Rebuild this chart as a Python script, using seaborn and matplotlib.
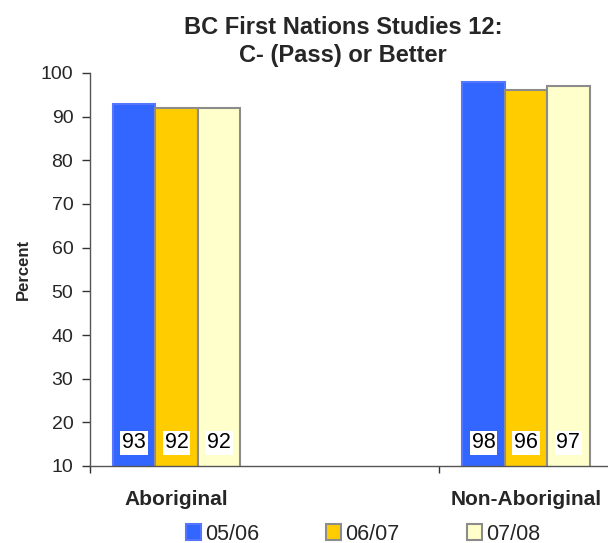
import matplotlib
matplotlib.use("Agg")
import matplotlib.pyplot as plt
from matplotlib.patches import Patch
import seaborn as sns
import pandas as pd

categories = ["Aboriginal", "Non-Aboriginal"]
years = ["05/06", "06/07", "07/08"]
values_0506 = [93, 98]
values_0607 = [92, 96]
values_0708 = [92, 97]
yticks = [10, 20, 30, 40, 50, 60, 70, 80, 90, 100]

rows = []
for yr, vals in zip(years, [values_0506, values_0607, values_0708]):
    for c, v in zip(categories, vals):
        rows.append({"Group": c, "Year": yr, "Percent": v})
df = pd.DataFrame(rows)

sns.set_style("white")
plt.rcParams["font.family"] = ["Liberation Sans", "DejaVu Sans"]

fills = ["#3366FF", "#FFCC00", "#FFFFCC"]
edges = ["#5577FF", "#8C8C8C", "#8C8C8C"]

fig = plt.figure(figsize=(6.08, 5.43), dpi=100)
ax = fig.add_axes([90/608, 1-466/543, 1-90/608, (466-73)/543])

sns.barplot(data=df, x="Group", y="Percent", hue="Year", order=categories,
            hue_order=years, palette=fills, width=0.364, ax=ax, legend=False,
            saturation=1)

for cont, ec in zip(ax.containers, edges):
    for bar in cont:
        bar.set_edgecolor(ec)
        bar.set_linewidth(1.5)
    for bar, v in zip(cont, cont.datavalues):
        ax.text(bar.get_x() + bar.get_width()/2, 15.3, f"{v:.0f}",
                ha="center", va="center", fontsize=15.5, color="black",
                bbox=dict(boxstyle="square,pad=0.08", fc="white", ec="none"))

ax.set_ylim(10, 100)
ax.set_xlim(-0.2475, 1.2346)
ax.set_yticks(yticks)
ax.tick_params(axis="y", which="major", left=True, length=5.5, width=1,
               color="#333333", labelsize=14, pad=6.5)
ax.set_xticks([0, 1])
ax.set_xticklabels(categories, fontsize=15, fontweight="bold")
ax.tick_params(axis="x", which="major", bottom=False, pad=14)
ax.set_xticks([-0.2475, 0.751], minor=True)
ax.tick_params(axis="x", which="minor", bottom=True, length=5, width=1, color="#333333")
ax.set_xlabel("")
ax.set_ylabel("Percent", fontsize=12, fontweight="bold", labelpad=7)
for s in ["top", "right"]:
    ax.spines[s].set_visible(False)
for s in ["left", "bottom"]:
    ax.spines[s].set_color("#555555")
    ax.spines[s].set_linewidth(1)

ax.set_title("BC First Nations Studies 12:\nC- (Pass) or Better", fontsize=17,
             fontweight="bold", pad=8, linespacing=1.25, x=(343-90)/518)

handles = [Patch(facecolor=f, edgecolor=e, linewidth=1.5, label=y)
           for f, e, y in zip(fills, edges, years)]
fig.legend(handles=handles, loc="center", bbox_to_anchor=(363/608, 1-534/543),
           ncol=3, frameon=False, fontsize=15.5, handlelength=0.7, handleheight=0.7,
           handletextpad=0.2, columnspacing=3.1, borderpad=0.2)

fig.savefig("out.png", dpi=100)
